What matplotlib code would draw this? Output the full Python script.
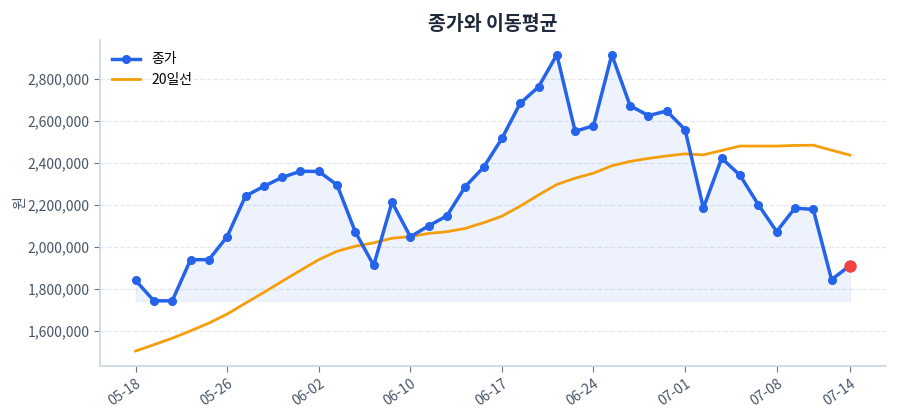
import matplotlib
matplotlib.use("Agg")
import matplotlib.pyplot as plt
from matplotlib.ticker import FuncFormatter

plt.rcParams['font.family'] = ['Noto Sans CJK KR', 'DejaVu Sans']

# 거래일 (한국 시장)
dates = ["05-18", "05-19", "05-20", "05-21", "05-22", "05-26", "05-27", "05-28", "05-29", "06-01",
         "06-02", "06-04", "06-05", "06-08", "06-09", "06-10", "06-11", "06-12", "06-15", "06-16",
         "06-17", "06-18", "06-19", "06-22", "06-23", "06-24", "06-25", "06-26", "06-29", "06-30",
         "07-01", "07-02", "07-03", "07-06", "07-07", "07-08", "07-09", "07-10", "07-13", "07-14"]

close = [1840000, 1743000, 1743000, 1939000, 1939000, 2049000, 2242000, 2288000, 2331000, 2360000,
         2359000, 2295000, 2070000, 1912000, 2213000, 2048000, 2100000, 2148000, 2287000, 2379000,
         2516000, 2684000, 2762000, 2915000, 2550000, 2577000, 2915000, 2672000, 2625000, 2647000,
         2558000, 2185000, 2422000, 2341000, 2201000, 2073000, 2185000, 2178000, 1844000, 1911000]

ma20 = [1504000, 1534000, 1565000, 1600000, 1637000, 1680000, 1732000, 1783000, 1836000, 1888000,
        1939000, 1979000, 2003000, 2019000, 2041000, 2049000, 2064000, 2072000, 2088000, 2115000,
        2146000, 2194000, 2247000, 2297000, 2327000, 2351000, 2386000, 2407000, 2421000, 2433000,
        2443000, 2438000, 2459000, 2480000, 2480000, 2480000, 2483000, 2484000, 2460000, 2437000]

tick_idx = [0, 5, 10, 15, 20, 25, 30, 35, 39]

BLUE = "#2563eb"
ORANGE = "#f59e0b"
RED = "#ef4444"
GRAY = "#475569"
SPINE = "#cbd5e1"

x = list(range(len(close)))

fig = plt.figure(figsize=(9, 4.2), dpi=100)
ax = fig.add_axes([0.111, 0.129, 0.873, 0.776])

ax.fill_between(x, close, min(close), color=BLUE, alpha=0.08, linewidth=0.8,
                edgecolor=(0.15, 0.39, 0.92, 0.12))
ax.plot(x, close, color=BLUE, linewidth=2.5, marker="o", markersize=5.5, label="종가", zorder=3)
ax.plot(x, ma20, color=ORANGE, linewidth=2.0, label="20일선", zorder=2)
ax.plot(x[-1], close[-1], "o", color=RED, markersize=8, zorder=4)

ax.set_title("종가와 이동평균", fontsize=14, fontweight="bold", color="#1e293b", pad=7)
ax.set_ylabel("원", fontsize=10, color=GRAY, labelpad=0)

ax.set_xticks(tick_idx)
ax.set_xticklabels([dates[i] for i in tick_idx], rotation=35, ha="right", rotation_mode="anchor")
ax.yaxis.set_major_formatter(FuncFormatter(lambda v, p: f"{v:,.0f}"))

ax.grid(axis="y", linestyle="--", color="#e2e8f0", linewidth=0.9)
ax.set_axisbelow(True)
for s in ["top", "right"]:
    ax.spines[s].set_visible(False)
for s in ["left", "bottom"]:
    ax.spines[s].set_color(SPINE)
    ax.spines[s].set_linewidth(1.2)
ax.tick_params(colors=GRAY, labelsize=10, length=4)
ax.tick_params(axis="both", color="#64748b")

ax.legend(loc="upper left", frameon=False, fontsize=10)

fig.savefig("out.png", dpi=100)
